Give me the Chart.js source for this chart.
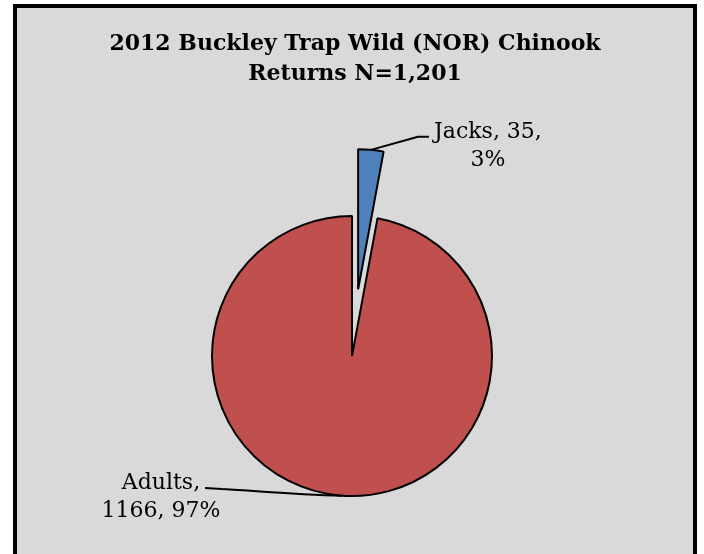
<!DOCTYPE html>
<html>
  <head>
    <title>Buckley Trap Chinook Returns</title>
    <style>
      html, body { margin: 0; padding: 0; background: #fff; overflow: hidden; }
      #frame {
        position: absolute; left: 13px; top: 4px; width: 676px; height: 570px;
        border: 4px solid #000; background: #d9d9d9;
      }
      #wrap { position: absolute; left: 0; top: 0; width: 704px; height: 554px; }
    </style>
    <script src="https://cdn.jsdelivr.net/npm/chart.js"></script>
  </head>
  <body>
    <div id="frame"></div>
    <div id="wrap"><canvas id="chart" width="704" height="554"></canvas></div>

    <script>
      var titleLines = ["2012 Buckley Trap Wild (NOR) Chinook", "Returns N=1,201"];
      var categories = ["Jacks", "Adults"];
      var counts = [35, 1166];
      var percents = [3, 97];
      var colors = ["#4f81bd", "#c0504d"];

      var serif = "'DejaVu Serif', 'Liberation Serif', serif";
      var explode = [67, 0]; // pixels each slice is pulled out from the centre

      // chart.js' own arc offset also grows the radius, so move the slice centre instead
      var explodePlugin = {
        id: "explodePlugin",
        afterDatasetUpdate: function (chart, args) {
          var arcs = chart.getDatasetMeta(args.index).data;
          arcs.forEach(function (arc, i) {
            var d = explode[i] || 0;
            if (!d) return;
            var mid = (arc.startAngle + arc.endAngle) / 2;
            arc.x += Math.cos(mid) * d;
            arc.y += Math.sin(mid) * d;
          });
        },
      };

      // title + the two callout labels with leader lines
      var textPlugin = {
        id: "textPlugin",
        afterDraw: function (chart) {
          var ctx = chart.ctx;
          var arcs = chart.getDatasetMeta(0).data;
          ctx.save();
          ctx.fillStyle = "#000";
          ctx.textAlign = "center";
          ctx.textBaseline = "alphabetic";
          ctx.font = "bold 22px " + serif;
          ctx.fillText(titleLines[0], 355, 50);
          ctx.fillText(titleLines[1], 355, 80);

          ctx.strokeStyle = "#000";
          ctx.lineWidth = 2;

          // Jacks: leader from the top of the exploded slice up to the right
          var j = arcs[0];
          var ja = (j.startAngle + j.endAngle) / 2;
          var jx = j.x + Math.cos(ja) * j.outerRadius;
          var jy = j.y + Math.sin(ja) * j.outerRadius;
          ctx.beginPath();
          ctx.moveTo(jx, jy);
          ctx.lineTo(jx + 47, jy - 13);
          ctx.lineTo(jx + 58, jy - 13);
          ctx.stroke();
          ctx.font = "22px " + serif;
          ctx.fillText(categories[0] + ", " + counts[0] + ",", jx + 117, jy - 12);
          ctx.fillText(percents[0] + "%", jx + 117, jy + 16);

          // Adults: leader from the bottom of the pie out to the left
          var a = arcs[1];
          var ax = a.x - 10;
          var ay = a.y + Math.sqrt(a.outerRadius * a.outerRadius - 100);
          ctx.beginPath();
          ctx.moveTo(ax, ay);
          ctx.bezierCurveTo(ax - 50, ay - 1, ax - 100, ay - 6, 222, 489);
          ctx.lineTo(205, 488);
          ctx.stroke();
          ctx.fillText(categories[1] + ",", 161, 489);
          ctx.fillText(counts[1] + ", " + percents[1] + "%", 161, 517);
          ctx.restore();
        },
      };

      var ctx = document.getElementById("chart").getContext("2d");
      var chart = new Chart(ctx, {
        type: "pie",
        data: {
          labels: categories,
          datasets: [
            {
              data: counts,
              backgroundColor: colors,
              borderColor: "#000",
              borderWidth: 2,
            },
          ],
        },
        options: {
          responsive: false,
          animation: false,
          radius: 140,
          layout: { padding: { left: 100, right: 100, top: 200, bottom: 42 } },
          plugins: {
            legend: { display: false },
            tooltip: { enabled: false },
          },
        },
        plugins: [explodePlugin, textPlugin],
      });
    </script>
  </body>
</html>
